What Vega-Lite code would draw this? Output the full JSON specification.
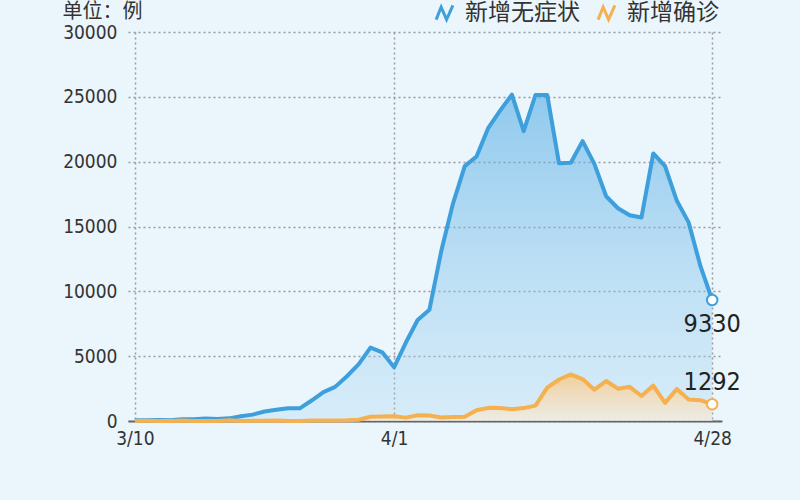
{
  "$schema": "https://vega.github.io/schema/vega-lite/v6.json",
  "width": 594,
  "height": 389,
  "autosize": {"type": "none"},
  "padding": {"left": 128, "top": 32, "right": 78, "bottom": 79},
  "background": "#eaf5fc",
  "config": {
    "view": {"stroke": null},
    "font": "Liberation Sans Narrow, DejaVu Sans Condensed, Roboto, sans-serif"
  },
  "data": {
    "values": [
      {"date": "2022-03-10", "新增无症状": 62, "新增确诊": 4},
      {"date": "2022-03-11", "新增无症状": 64, "新增确诊": 11},
      {"date": "2022-03-12", "新增无症状": 78, "新增确诊": 5},
      {"date": "2022-03-13", "新增无症状": 64, "新增确诊": 1},
      {"date": "2022-03-14", "新增无症状": 128, "新增确诊": 41},
      {"date": "2022-03-15", "新增无症状": 130, "新增确诊": 9},
      {"date": "2022-03-16", "新增无症状": 197, "新增确诊": 5},
      {"date": "2022-03-17", "新增无症状": 150, "新增确诊": 8},
      {"date": "2022-03-18", "新增无症状": 203, "新增确诊": 57},
      {"date": "2022-03-19", "新增无症状": 366, "新增确诊": 8},
      {"date": "2022-03-20", "新增无症状": 492, "新增确诊": 17},
      {"date": "2022-03-21", "新增无症状": 734, "新增确诊": 24},
      {"date": "2022-03-22", "新增无症状": 865, "新增确诊": 31},
      {"date": "2022-03-23", "新增无症状": 977, "新增确诊": 4},
      {"date": "2022-03-24", "新增无症状": 979, "新增确诊": 4},
      {"date": "2022-03-25", "新增无症状": 1580, "新增确诊": 29},
      {"date": "2022-03-26", "新增无症状": 2231, "新增确诊": 38},
      {"date": "2022-03-27", "新增无症状": 2631, "新增确诊": 45},
      {"date": "2022-03-28", "新增无症状": 3450, "新增确诊": 50},
      {"date": "2022-03-29", "新增无症状": 4381, "新增确诊": 96},
      {"date": "2022-03-30", "新增无症状": 5656, "新增确诊": 326},
      {"date": "2022-03-31", "新增无症状": 5298, "新增确诊": 355},
      {"date": "2022-04-01", "新增无症状": 4144, "新增确诊": 358},
      {"date": "2022-04-02", "新增无症状": 6051, "新增确诊": 260},
      {"date": "2022-04-03", "新增无症状": 7788, "新增确诊": 438},
      {"date": "2022-04-04", "新增无症状": 8581, "新增确诊": 425},
      {"date": "2022-04-05", "新增无症状": 13086, "新增确诊": 268},
      {"date": "2022-04-06", "新增无症状": 16766, "新增确诊": 311},
      {"date": "2022-04-07", "新增无症状": 19660, "新增确诊": 322},
      {"date": "2022-04-08", "新增无症状": 20398, "新增确诊": 824},
      {"date": "2022-04-09", "新增无症状": 22609, "新增确诊": 1015},
      {"date": "2022-04-10", "新增无症状": 23937, "新增确诊": 1006},
      {"date": "2022-04-11", "新增无症状": 25173, "新增确诊": 914},
      {"date": "2022-04-12", "新增无症状": 22348, "新增确诊": 994},
      {"date": "2022-04-13", "新增无症状": 25141, "新增确诊": 1189},
      {"date": "2022-04-14", "新增无症状": 25146, "新增确诊": 2573},
      {"date": "2022-04-15", "新增无症状": 19872, "新增确诊": 3200},
      {"date": "2022-04-16", "新增无症状": 19923, "新增确诊": 3590},
      {"date": "2022-04-17", "新增无症状": 21582, "新增确诊": 3238},
      {"date": "2022-04-18", "新增无症状": 19831, "新增确诊": 2417},
      {"date": "2022-04-19", "新增无症状": 17332, "新增确诊": 3084},
      {"date": "2022-04-20", "新增无症状": 16407, "新增确诊": 2494},
      {"date": "2022-04-21", "新增无症状": 15861, "新增确诊": 2634},
      {"date": "2022-04-22", "新增无症状": 15698, "新增确诊": 1931},
      {"date": "2022-04-23", "新增无症状": 20634, "新增确诊": 2736},
      {"date": "2022-04-24", "新增无症状": 19657, "新增确诊": 1401},
      {"date": "2022-04-25", "新增无症状": 16983, "新增确诊": 2472},
      {"date": "2022-04-26", "新增无症状": 15319, "新增确诊": 1661},
      {"date": "2022-04-27", "新增无症状": 11956, "新增确诊": 1606},
      {"date": "2022-04-28", "新增无症状": 9330, "新增确诊": 1292}
    ]
  },
  "transform": [{"fold": ["新增无症状", "新增确诊"], "as": ["series", "value"]}],
  "encoding": {
    "x": {
      "field": "date",
      "type": "temporal",
      "scale": {
        "type": "utc",
        "domain": [
          {"year": 2022, "month": 3, "date": 9, "hours": 10, "utc": true},
          {"year": 2022, "month": 4, "date": 28, "hours": 20, "utc": true}
        ]
      },
      "axis": {
        "title": null,
        "values": [
          {"year": 2022, "month": 3, "date": 10, "utc": true},
          {"year": 2022, "month": 4, "date": 1, "utc": true},
          {"year": 2022, "month": 4, "date": 28, "utc": true}
        ],
        "labelExpr": "utcFormat(datum.value, '%-m/%-d')",
        "labelFontSize": 19,
        "labelColor": "#333333",
        "labelPadding": 8,
        "ticks": false,
        "domain": true,
        "domainColor": "#666666",
        "domainWidth": 2,
        "grid": true,
        "gridColor": "#9a9a9a",
        "gridDash": [2, 3],
        "gridWidth": 1.5
      }
    },
    "y": {
      "field": "value",
      "type": "quantitative",
      "scale": {"domain": [0, 30000], "nice": false},
      "axis": {
        "title": "单位：例",
        "titleAngle": 0,
        "titleAlign": "left",
        "titleBaseline": "alphabetic",
        "titleX": -66,
        "titleY": -15,
        "titleFont": "Noto Sans CJK SC",
        "titleFontSize": 20,
        "titleFontWeight": "normal",
        "titleColor": "#333333",
        "values": [0, 5000, 10000, 15000, 20000, 25000, 30000],
        "format": "d",
        "labelFontSize": 19,
        "labelColor": "#333333",
        "labelPadding": 11,
        "ticks": false,
        "domain": false,
        "grid": true,
        "gridColor": "#9a9a9a",
        "gridDash": [2, 3],
        "gridWidth": 1.5
      }
    }
  },
  "layer": [
    {
      "transform": [{"filter": "datum.series === '新增无症状'"}],
      "mark": {
        "type": "area",
        "color": {
          "gradient": "linear", "x1": 0, "y1": 0, "x2": 0, "y2": 1,
          "stops": [
            {"offset": 0, "color": "rgba(70,165,225,0.55)"},
            {"offset": 1, "color": "rgba(170,215,242,0.3)"}
          ]
        }
      }
    },
    {
      "transform": [{"filter": "datum.series === '新增确诊'"}],
      "mark": {
        "type": "area",
        "color": {
          "gradient": "linear", "x1": 0, "y1": 0, "x2": 0, "y2": 1,
          "stops": [
            {"offset": 0, "color": "rgba(250,200,130,0.8)"},
            {"offset": 1, "color": "rgba(250,235,215,0.6)"}
          ]
        }
      }
    },
    {
      "mark": {"type": "line", "strokeWidth": 4, "strokeJoin": "round"},
      "encoding": {
        "color": {
          "field": "series",
          "type": "nominal",
          "scale": {"domain": ["新增无症状", "新增确诊"], "range": ["#3d9fdb", "#f5b04f"]},
          "legend": {
            "title": null,
            "orient": "none",
            "direction": "horizontal",
            "legendX": 305,
            "legendY": -31,
            "padding": 0,
            "symbolType": "M-1,0.8L-0.4,-0.7L0.25,0.8L1,-0.9",
            "symbolSize": 280,
            "symbolStrokeWidth": 3,
            "symbolFillColor": "transparent",
            "labelFont": "Noto Sans CJK SC",
            "labelFontSize": 23,
            "labelColor": "#333333",
            "labelOffset": 9,
            "columnPadding": 12
          }
        }
      }
    },
    {
      "transform": [{"filter": "utcFormat(datum.date, '%Y-%m-%d') === '2022-04-28'"}],
      "mark": {"type": "point", "filled": true, "fill": "#ffffff", "size": 110, "strokeWidth": 2, "opacity": 1},
      "encoding": {
        "stroke": {
          "field": "series",
          "type": "nominal",
          "scale": {"domain": ["新增无症状", "新增确诊"], "range": ["#3d9fdb", "#f5b04f"]},
          "legend": null
        }
      }
    },
    {
      "transform": [{"filter": "utcFormat(datum.date, '%Y-%m-%d') === '2022-04-28' && datum.series === '新增无症状'"}],
      "mark": {"type": "text", "fontSize": 25, "color": "#222222", "baseline": "top", "dy": 12},
      "encoding": {"text": {"field": "value", "type": "quantitative", "format": "d"}}
    },
    {
      "transform": [{"filter": "utcFormat(datum.date, '%Y-%m-%d') === '2022-04-28' && datum.series === '新增确诊'"}],
      "mark": {"type": "text", "fontSize": 25, "color": "#222222", "baseline": "alphabetic", "dy": -14},
      "encoding": {"text": {"field": "value", "type": "quantitative", "format": "d"}}
    }
  ]
}
